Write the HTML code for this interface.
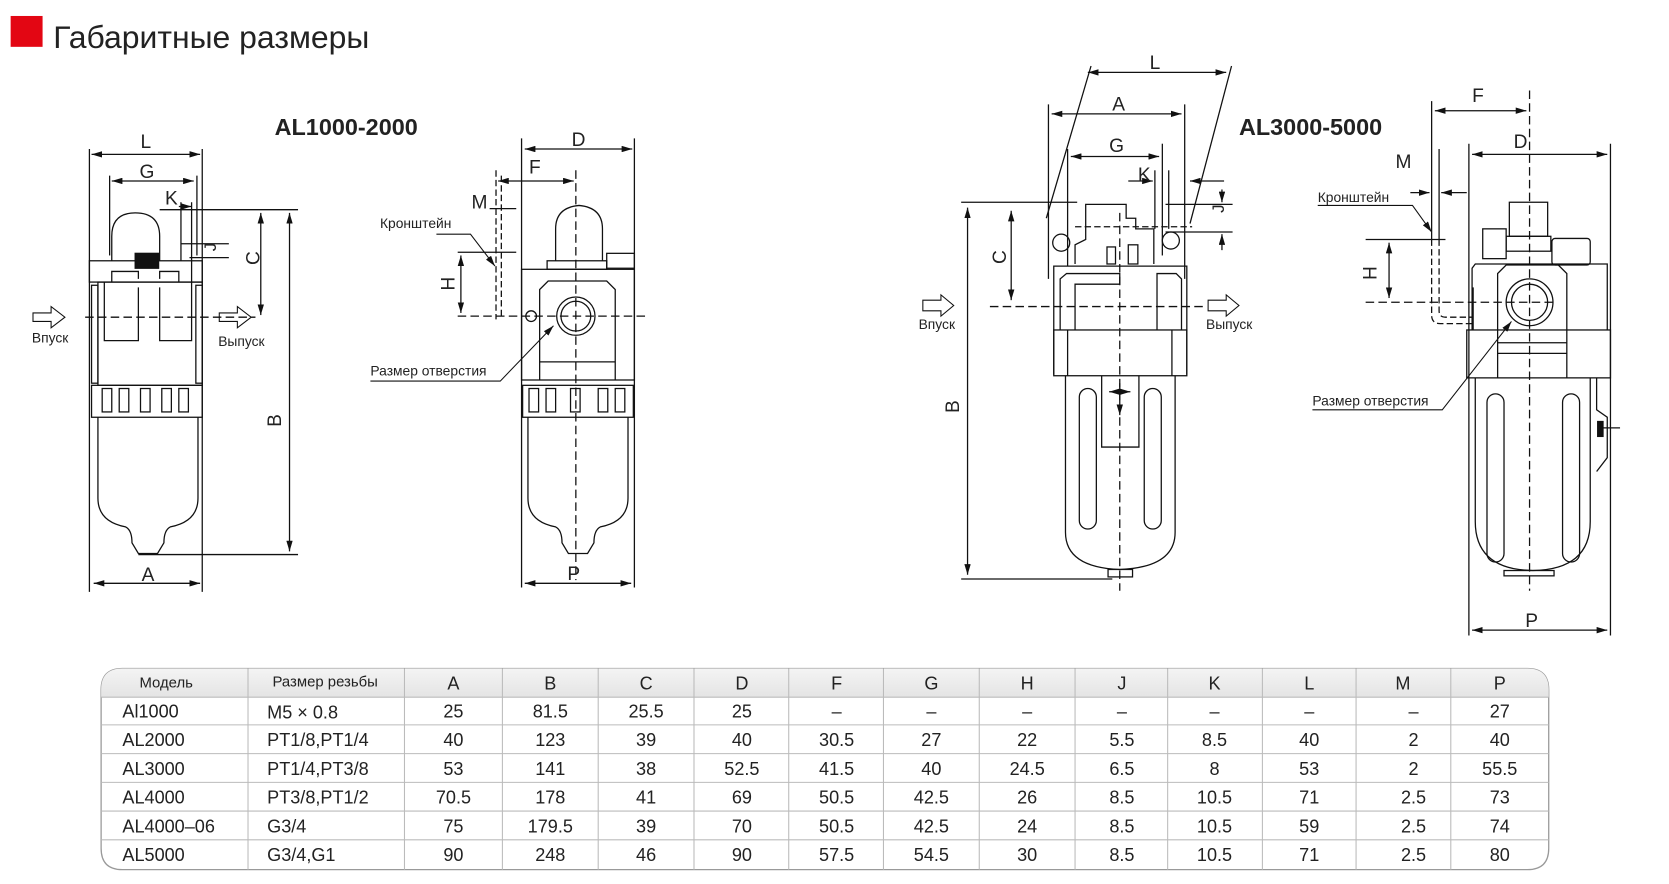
<!DOCTYPE html>
<html><head><meta charset="utf-8"><style>
html,body{margin:0;padding:0;background:#fff}
svg{display:block}
text{font-family:"Liberation Sans","DejaVu Sans",sans-serif;fill:#222}
</style></head><body>
<svg width="1669" height="884" viewBox="0 0 1568 830.5" xmlns="http://www.w3.org/2000/svg">
<defs>
<marker id="a" viewBox="0 0 10 6" refX="10" refY="3" markerWidth="10" markerHeight="6" orient="auto-start-reverse" markerUnits="userSpaceOnUse"><path d="M0,0 L10,3 L0,6 z" fill="#111"/></marker>
<linearGradient id="hg" x1="0" y1="0" x2="0" y2="1"><stop offset="0" stop-color="#f4f4f4"/><stop offset="1" stop-color="#e4e4e4"/></linearGradient>
</defs>
<rect x="10" y="15" width="30" height="29" fill="#e30613"/>
<text x="50" y="45" font-size="30" fill="#333">Габаритные размеры</text>
<text x="258" y="127" font-size="22" font-weight="bold">AL1000-2000</text>
<text x="1164" y="127" font-size="22" font-weight="bold">AL3000-5000</text>

<g stroke="#111" stroke-width="1.2" fill="none">
<line x1="84" y1="140" x2="84" y2="556"/><line x1="190" y1="140" x2="190" y2="556"/>
<line x1="86" y1="145" x2="188" y2="145" marker-start="url(#a)" marker-end="url(#a)"/>
<line x1="103" y1="165" x2="103" y2="240"/><line x1="185" y1="165" x2="185" y2="240"/>
<line x1="105" y1="170" x2="182" y2="170" marker-start="url(#a)" marker-end="url(#a)"/>
<line x1="168" y1="194" x2="180" y2="194" marker-end="url(#a)"/>
<line x1="170" y1="190" x2="170" y2="245"/><line x1="180" y1="190" x2="180" y2="265"/>
<line x1="150" y1="197" x2="280" y2="197"/><line x1="130" y1="521" x2="280" y2="521"/>
<line x1="272" y1="200" x2="272" y2="518" marker-start="url(#a)" marker-end="url(#a)"/>
<line x1="245" y1="200" x2="245" y2="296" marker-start="url(#a)" marker-end="url(#a)"/>
<line x1="170" y1="229" x2="215" y2="229"/><line x1="178" y1="242" x2="215" y2="242"/>
<path d="M105,245 V222 Q105,200 127,200 Q150,200 150,222 V245"/>
<rect x="84" y="245" width="106" height="20"/>
<rect x="127" y="238" width="22" height="14" fill="#111"/>
<path d="M105,265 V255 H130 V262 M150,262 V255 H168 V265"/>
<rect x="92" y="265" width="98" height="97"/>
<rect x="86" y="268" width="6" height="92"/><rect x="184" y="268" width="6" height="92"/>
<path d="M98,265 V320 H130 V270 M150,270 V320 H180 V265"/>
<rect x="86" y="362" width="104" height="30"/>
<rect x="96" y="365" width="9" height="22"/><rect x="112" y="365" width="9" height="22"/><rect x="132" y="365" width="9" height="22"/><rect x="152" y="365" width="9" height="22"/><rect x="168" y="365" width="9" height="22"/>
<path d="M92,392 V468 Q92,490 118,495 Q124,498 124,510 L130,520 H148 L154,510 Q154,498 160,495 Q186,490 186,468 V392"/>
<line x1="88" y1="548" x2="188" y2="548" marker-start="url(#a)" marker-end="url(#a)"/>
<line x1="80" y1="298" x2="240" y2="298" stroke-dasharray="8,4"/>
<path d="M31,294 H48 V288 L61,298 L48,308 V302 H31 Z" stroke-width="1"/>
<path d="M206,294 H223 V288 L236,298 L223,308 V302 H206 Z" stroke-width="1"/>

<line x1="490" y1="130" x2="490" y2="552"/><line x1="596" y1="130" x2="596" y2="552"/>
<line x1="493" y1="140" x2="594" y2="140" marker-start="url(#a)" marker-end="url(#a)"/>
<line x1="466" y1="160" x2="466" y2="300" stroke-dasharray="6,3"/><line x1="471" y1="165" x2="471" y2="300" stroke-dasharray="6,3"/>
<line x1="468" y1="170" x2="539" y2="170" marker-start="url(#a)" marker-end="url(#a)"/>
<line x1="541" y1="160" x2="541" y2="545" stroke-dasharray="8,4"/>
<line x1="460" y1="196" x2="485" y2="196"/><line x1="430" y1="237" x2="485" y2="237"/>
<line x1="433" y1="240" x2="433" y2="294" marker-start="url(#a)" marker-end="url(#a)"/>
<line x1="430" y1="297" x2="610" y2="297" stroke-dasharray="8,4"/>
<path d="M410,220 H442 L465,250" marker-end="url(#a)" stroke-width="1"/>
<path d="M522,245 V215 Q522,195 544,193 Q566,195 566,215 V245"/>
<rect x="514" y="245" width="56" height="8"/>
<rect x="570" y="238" width="26" height="14"/>
<rect x="490" y="253" width="106" height="104"/>
<path d="M507,357 V272 L515,264 H570 L578,272 V357 M507,340 H578"/>
<circle cx="541" cy="297" r="18"/><circle cx="541" cy="297" r="14"/>
<circle cx="499" cy="297" r="5"/>
<path d="M348,358 H470 L520,306" marker-end="url(#a)" stroke-width="1"/>
<rect x="491" y="362" width="104" height="30"/>
<rect x="497" y="365" width="9" height="22"/><rect x="513" y="365" width="9" height="22"/><rect x="536" y="365" width="9" height="22"/><rect x="562" y="365" width="9" height="22"/><rect x="578" y="365" width="9" height="22"/>
<path d="M496,392 V468 Q496,490 522,495 Q528,498 528,510 L534,520 H552 L558,510 Q558,498 564,495 Q590,490 590,468 V392"/>
<line x1="493" y1="548" x2="593" y2="548" marker-start="url(#a)" marker-end="url(#a)"/>

<line x1="983" y1="205" x2="1025" y2="62"/><line x1="1118" y1="210" x2="1157" y2="62"/>
<line x1="1022" y1="68" x2="1152" y2="68" marker-start="url(#a)" marker-end="url(#a)"/>
<line x1="985" y1="98" x2="985" y2="262"/><line x1="1113" y1="98" x2="1113" y2="262"/>
<line x1="988" y1="107" x2="1110" y2="107" marker-start="url(#a)" marker-end="url(#a)"/>
<line x1="1003" y1="140" x2="1003" y2="250"/><line x1="1092" y1="135" x2="1092" y2="240"/>
<line x1="1006" y1="147" x2="1089" y2="147" marker-start="url(#a)" marker-end="url(#a)"/>
<line x1="1060" y1="170" x2="1083" y2="170" marker-end="url(#a)"/><line x1="1085" y1="160" x2="1085" y2="215"/><line x1="1098" y1="160" x2="1098" y2="215"/>
<line x1="1118" y1="170" x2="1150" y2="170" marker-start="url(#a)"/>
<line x1="1095" y1="192" x2="1158" y2="192"/><line x1="1095" y1="218" x2="1158" y2="218"/>
<line x1="1148" y1="178" x2="1148" y2="190" marker-end="url(#a)"/><line x1="1148" y1="235" x2="1148" y2="220" marker-end="url(#a)"/>
<line x1="903" y1="190" x2="1012" y2="190"/><line x1="903" y1="544" x2="1045" y2="544"/>
<line x1="909" y1="195" x2="909" y2="540" marker-start="url(#a)" marker-end="url(#a)"/>
<line x1="950" y1="198" x2="950" y2="282" marker-start="url(#a)" marker-end="url(#a)"/>
<line x1="930" y1="288" x2="1130" y2="288" stroke-dasharray="8,4"/>
<line x1="1052" y1="200" x2="1052" y2="555" stroke-dasharray="8,4"/>
<line x1="1010" y1="213" x2="1120" y2="213" stroke-dasharray="6,3"/>
<path d="M1010,248 V230 L1020,225 V192 H1058 V205 H1067 V215 H1084 V248"/>
<circle cx="997" cy="228" r="8"/><circle cx="1100" cy="226" r="8"/>
<rect x="1040" y="232" width="8" height="16"/><rect x="1060" y="230" width="9" height="18"/>
<path d="M990,352 V250 H1115 V352"/>
<path d="M996,310 V262 L1002,257 H1052 V267 H1010 V310 M1087,310 V257 H1105 L1110,262 V310"/>
<rect x="990" y="310" width="125" height="43"/>
<line x1="1003" y1="310" x2="1003" y2="353"/><line x1="1101" y1="310" x2="1101" y2="353"/>
<path d="M1001,353 V500 Q1001,533 1052,535 Q1104,533 1104,500 V353"/>
<rect x="1041" y="535" width="23" height="7"/>
<rect x="1014" y="365" width="16" height="132" rx="8"/><rect x="1075" y="365" width="16" height="132" rx="8"/>
<path d="M1035,353 V420 H1070 V353"/>
<line x1="1042" y1="368" x2="1062" y2="368" marker-start="url(#a)" marker-end="url(#a)"/>
<line x1="1052" y1="360" x2="1052" y2="390" marker-end="url(#a)"/>
<path d="M867,282 H884 V277 L896,287 L884,297 V292 H867 Z" stroke-width="1"/>
<path d="M1135,282 H1152 V277 L1164,287 L1152,297 V292 H1135 Z" stroke-width="1"/>

<line x1="1437" y1="85" x2="1437" y2="555" stroke-dasharray="8,4"/>
<line x1="1345" y1="95" x2="1345" y2="225"/><line x1="1352" y1="140" x2="1352" y2="225"/>
<line x1="1348" y1="104" x2="1434" y2="104" marker-start="url(#a)" marker-end="url(#a)"/>
<line x1="1380" y1="135" x2="1380" y2="597"/><line x1="1513" y1="135" x2="1513" y2="597"/>
<line x1="1383" y1="145" x2="1510" y2="145" marker-start="url(#a)" marker-end="url(#a)"/>
<line x1="1325" y1="181" x2="1343" y2="181" marker-end="url(#a)"/>
<line x1="1378" y1="181" x2="1354" y2="181" marker-end="url(#a)"/>
<path d="M1238,193 H1327 L1345,218" marker-end="url(#a)" stroke-width="1"/>
<line x1="1283" y1="225" x2="1358" y2="225"/>
<line x1="1305" y1="228" x2="1305" y2="280" marker-start="url(#a)" marker-end="url(#a)"/>
<line x1="1283" y1="284" x2="1460" y2="284" stroke-dasharray="8,4"/>
<path d="M1345,225 V296 Q1345,304 1353,304 H1383 M1352,225 V292 Q1352,298 1358,298 H1383" stroke-dasharray="6,3"/>
<rect x="1418" y="190" width="36" height="32"/>
<rect x="1415" y="222" width="42" height="14"/>
<rect x="1393" y="215" width="22" height="28"/>
<rect x="1458" y="224" width="36" height="25" rx="3"/>
<path d="M1383,310 V252 L1386,248 H1510 V310"/>
<path d="M1407,355 V257 L1415,249 H1464 L1472,257 V355 M1407,322 H1472 M1407,332 H1472"/>
<circle cx="1437" cy="284" r="22"/><circle cx="1437" cy="284" r="17"/>
<rect x="1378" y="310" width="135" height="45"/>
<line x1="1384" y1="270" x2="1384" y2="310"/>
<path d="M1233,385 H1355 L1420,302" marker-end="url(#a)" stroke-width="1"/>
<path d="M1386,355 V490 Q1386,535 1440,536 Q1494,535 1494,490 V355"/>
<rect x="1413" y="536" width="47" height="5"/>
<rect x="1397" y="370" width="16" height="158" rx="8"/><rect x="1468" y="370" width="16" height="158" rx="8"/>
<path d="M1500,355 V385 L1510,392 V430 L1500,443"/>
<rect x="1501" y="396" width="5" height="14" fill="#111"/>
<line x1="1506" y1="402" x2="1522" y2="402"/>
<line x1="1383" y1="592" x2="1510" y2="592" marker-start="url(#a)" marker-end="url(#a)"/>
</g>

<g font-size="18">
<text x="132" y="139">L</text><text x="131" y="167">G</text><text x="155" y="192">K</text>
<text x="133" y="546">A</text>
<text transform="translate(203,236) rotate(-90)" font-size="16">J</text>
<text transform="translate(244,249) rotate(-90)">C</text>
<text transform="translate(264,401) rotate(-90)">B</text>
<text x="537" y="137">D</text><text x="497" y="163">F</text><text x="443" y="196">M</text>
<text transform="translate(427,273) rotate(-90)">H</text>
<text x="533" y="545">P</text>
<text x="1080" y="65">L</text><text x="1045" y="104">A</text><text x="1042" y="143">G</text><text x="1069" y="170">K</text>
<text transform="translate(1150,200) rotate(-90)" font-size="16">J</text>
<text transform="translate(945,248) rotate(-90)">C</text>
<text transform="translate(901,388) rotate(-90)">B</text>
<text x="1383" y="96">F</text><text x="1422" y="139">D</text><text x="1311" y="158">M</text>
<text transform="translate(1293,263) rotate(-90)">H</text>
<text x="1433" y="589">P</text>
</g>
<g font-size="13">
<text x="30" y="322">Впуск</text><text x="205" y="325">Выпуск</text>
<text x="357" y="214">Кронштейн</text><text x="348" y="353">Размер отверстия</text>
<text x="863" y="309">Впуск</text><text x="1133" y="309">Выпуск</text>
<text x="1238" y="190">Кронштейн</text><text x="1233" y="381">Размер отверстия</text>
</g>

<g>
<path d="M115,628 H1435 Q1455,628 1455,648 V797 Q1455,817 1435,817 H115 Q95,817 95,797 V648 Q95,628 115,628 Z" fill="#fff" stroke="#999" stroke-width="1.2"/>
<path d="M115,628 H1435 Q1455,628 1455,648 V655 H95 V648 Q95,628 115,628 Z" fill="url(#hg)"/>
<g stroke="#bbb" stroke-width="1">
<line x1="95" y1="655" x2="1455" y2="655"/><line x1="95" y1="681" x2="1455" y2="681"/><line x1="95" y1="708" x2="1455" y2="708"/><line x1="95" y1="735" x2="1455" y2="735"/><line x1="95" y1="762" x2="1455" y2="762"/><line x1="95" y1="789" x2="1455" y2="789"/>
<line x1="233" y1="628" x2="233" y2="817"/><line x1="380" y1="628" x2="380" y2="817"/><line x1="472" y1="628" x2="472" y2="817"/><line x1="562" y1="628" x2="562" y2="817"/><line x1="652" y1="628" x2="652" y2="817"/><line x1="741" y1="628" x2="741" y2="817"/><line x1="830" y1="628" x2="830" y2="817"/><line x1="920" y1="628" x2="920" y2="817"/><line x1="1010" y1="628" x2="1010" y2="817"/><line x1="1097" y1="628" x2="1097" y2="817"/><line x1="1186" y1="628" x2="1186" y2="817"/><line x1="1274" y1="628" x2="1274" y2="817"/><line x1="1363" y1="628" x2="1363" y2="817"/>
</g>
<g font-size="14"><text x="131" y="646">Модель</text><text x="256" y="645">Размер резьбы</text></g>
<g font-size="17" text-anchor="middle">
<text x="426" y="648">A</text><text x="517" y="648">B</text><text x="607" y="648">C</text><text x="697" y="648">D</text><text x="786" y="648">F</text><text x="875" y="648">G</text><text x="965" y="648">H</text><text x="1054" y="648">J</text><text x="1141" y="648">K</text><text x="1230" y="648">L</text><text x="1318" y="648">M</text><text x="1409" y="648">P</text>
</g>
<g font-size="17">
<text x="115" y="674">Al1000</text><text x="251" y="675">M5 × 0.8</text>
<text x="115" y="701">AL2000</text><text x="251" y="701">PT1/8,PT1/4</text>
<text x="115" y="728">AL3000</text><text x="251" y="728">PT1/4,PT3/8</text>
<text x="115" y="755">AL4000</text><text x="251" y="755">PT3/8,PT1/2</text>
<text x="115" y="782">AL4000–06</text><text x="251" y="782">G3/4</text>
<text x="115" y="809">AL5000</text><text x="251" y="809">G3/4,G1</text>
</g>
<g font-size="17" text-anchor="middle">
<g transform="translate(0,674)"><text x="426">25</text><text x="517">81.5</text><text x="607">25.5</text><text x="697">25</text><text x="786">–</text><text x="875">–</text><text x="965">–</text><text x="1054">–</text><text x="1141">–</text><text x="1230">–</text><text x="1328">–</text><text x="1409">27</text></g>
<g transform="translate(0,701)"><text x="426">40</text><text x="517">123</text><text x="607">39</text><text x="697">40</text><text x="786">30.5</text><text x="875">27</text><text x="965">22</text><text x="1054">5.5</text><text x="1141">8.5</text><text x="1230">40</text><text x="1328">2</text><text x="1409">40</text></g>
<g transform="translate(0,728)"><text x="426">53</text><text x="517">141</text><text x="607">38</text><text x="697">52.5</text><text x="786">41.5</text><text x="875">40</text><text x="965">24.5</text><text x="1054">6.5</text><text x="1141">8</text><text x="1230">53</text><text x="1328">2</text><text x="1409">55.5</text></g>
<g transform="translate(0,755)"><text x="426">70.5</text><text x="517">178</text><text x="607">41</text><text x="697">69</text><text x="786">50.5</text><text x="875">42.5</text><text x="965">26</text><text x="1054">8.5</text><text x="1141">10.5</text><text x="1230">71</text><text x="1328">2.5</text><text x="1409">73</text></g>
<g transform="translate(0,782)"><text x="426">75</text><text x="517">179.5</text><text x="607">39</text><text x="697">70</text><text x="786">50.5</text><text x="875">42.5</text><text x="965">24</text><text x="1054">8.5</text><text x="1141">10.5</text><text x="1230">59</text><text x="1328">2.5</text><text x="1409">74</text></g>
<g transform="translate(0,809)"><text x="426">90</text><text x="517">248</text><text x="607">46</text><text x="697">90</text><text x="786">57.5</text><text x="875">54.5</text><text x="965">30</text><text x="1054">8.5</text><text x="1141">10.5</text><text x="1230">71</text><text x="1328">2.5</text><text x="1409">80</text></g>
</g>
</g>
</svg>
</body></html>
